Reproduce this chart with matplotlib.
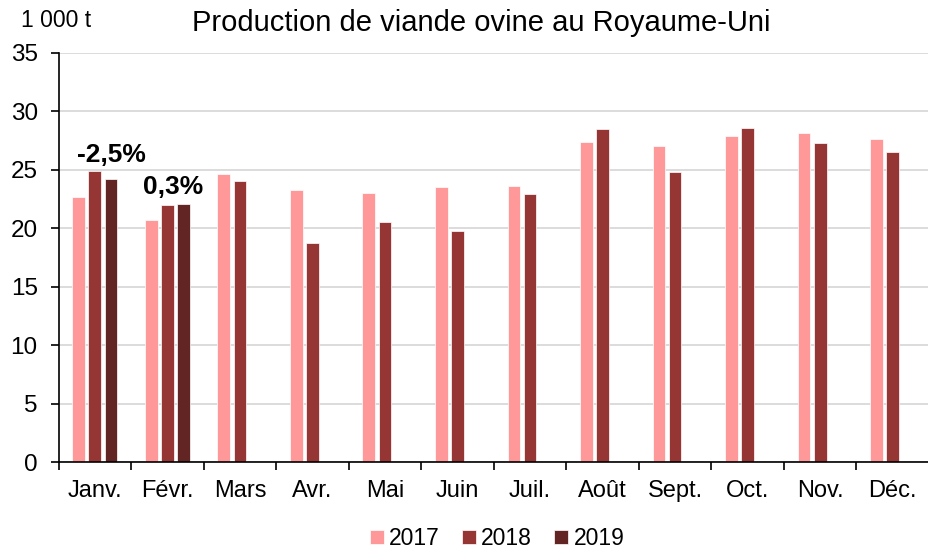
import matplotlib.pyplot as plt
import numpy as np

plt.rcParams['font.family'] = ['Liberation Sans', 'DejaVu Sans']

months = ['Janv.', 'Févr.', 'Mars', 'Avr.', 'Mai', 'Juin', 'Juil.',
          'Août', 'Sept.', 'Oct.', 'Nov.', 'Déc.']
prod_2017 = [22.7, 20.7, 24.6, 23.3, 23.0, 23.5, 23.6, 27.4, 27.0, 27.9, 28.1, 27.6]
prod_2018 = [24.9, 22.0, 24.0, 18.7, 20.5, 19.8, 22.9, 28.5, 24.8, 28.6, 27.3, 26.5]
prod_2019 = [24.2, 22.05]
var_labels = ['-2,5%', '0,3%']

col_2017 = '#FF9999'
col_2018 = '#963634'
col_2019 = '#632523'

x = np.arange(len(months))
w = 0.175
step = 0.223

fig = plt.figure(figsize=(9.29, 5.49), dpi=100)
ax = fig.add_axes([0.063, 0.158, 0.937, 0.746])

ax.bar(x - step, prod_2017, w, color=col_2017, edgecolor='white', linewidth=0.5, label='2017', zorder=3)
ax.bar(x, prod_2018, w, color=col_2018, edgecolor='white', linewidth=0.5, label='2018', zorder=3)
ax.bar(x[:len(prod_2019)] + step, prod_2019, w, color=col_2019, edgecolor='white', linewidth=0.5,
       label='2019', zorder=3)

# variations 2019/2018
ax.text(0.225, 25.7, var_labels[0], ha='center', va='baseline', fontsize=19, fontweight='bold')
ax.text(1.074, 22.9, var_labels[1], ha='center', va='baseline', fontsize=19, fontweight='bold')

ax.set_xlim(-0.5, len(months) - 0.5)
ax.set_ylim(0, 35)
ax.set_yticks(np.arange(0, 36, 5))
ax.set_xticks(np.arange(-0.5, len(months), 1), minor=False)
ax.set_xticklabels([])
ax.set_xticks(x, minor=True)
ax.set_xticklabels(months, minor=True)
ax.tick_params(axis='x', which='major', length=6, width=1.2, direction='out')
ax.tick_params(axis='x', which='minor', length=0, labelsize=17, pad=13)
ax.tick_params(axis='y', length=6, width=1.2, labelsize=17.5, pad=9)

ax.grid(axis='y', color='#D9D9D9', linewidth=1.3, zorder=0)
for s in ['top', 'right']:
    ax.spines[s].set_visible(False)
for s in ['left', 'bottom']:
    ax.spines[s].set_linewidth(1.2)
    ax.spines[s].set_zorder(4)

fig.text(0.518, 0.958, 'Production de viande ovine au Royaume-Uni', ha='center', va='center', fontsize=21)
fig.text(0.023, 0.962, '1 000 t', ha='left', va='center', fontsize=16.5)

fig.legend(loc='center', bbox_to_anchor=(0.535, 0.019), ncol=3, frameon=False, fontsize=16.5,
           handlelength=0.6, handleheight=0.6, handletextpad=0.25, columnspacing=0.95,
           borderpad=0.1)

fig.savefig('out.png', dpi=100)
